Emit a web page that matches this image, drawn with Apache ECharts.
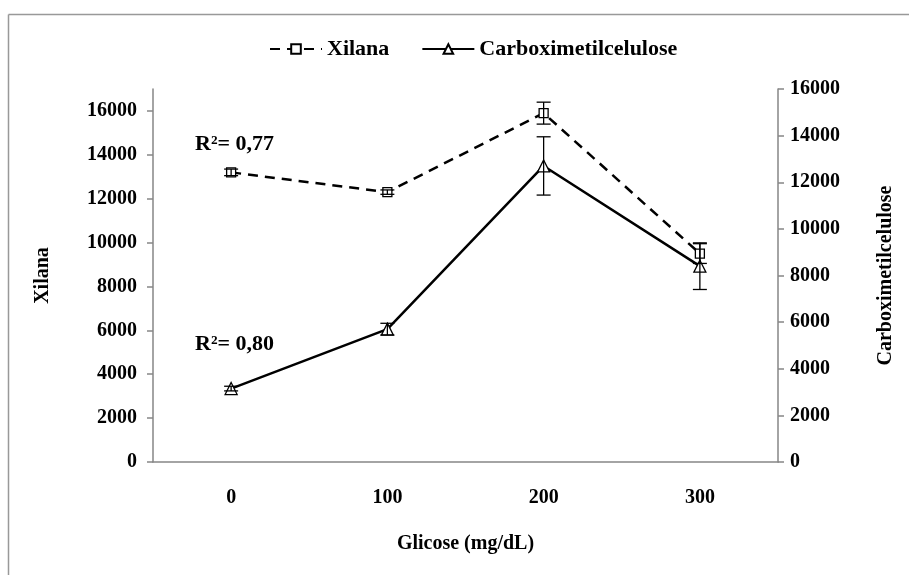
<!DOCTYPE html>
<html><head><meta charset="utf-8">
<script src="https://cdn.jsdelivr.net/npm/echarts@6/dist/echarts.min.js"></script>
<style>html,body{margin:0;padding:0;background:#fff}#c{width:909px;height:575px}</style>
</head><body><div id="c"></div>
<script>
const categories = ['0', '100', '200', '300'];
const xilana = [13200, 12300, 15900, 9500];
const xilanaErr = [150, 100, 500, 450];
const cmc = [3150, 5700, 12700, 8400];
const cmcErr = [100, 250, 1250, 1000];
const leftTicks = {min: 0, max: 17000, interval: 2000};
const rightTicks = {min: 0, max: 16000, interval: 2000};
const annotations = ['R²= 0,77', 'R²= 0,80'];

const FONT = '"Liberation Serif", "Times New Roman", serif';
const AX = '#868686';
const TS = 20;

function errSeries(vals, errs, axisIdx) {
  return {
    type: 'custom', yAxisIndex: axisIdx, z: 5, silent: true,
    data: vals.map((v, i) => [i, v - errs[i], v + errs[i]]),
    renderItem: function (params, api) {
      const lo = api.coord([api.value(0), api.value(1)]);
      const hi = api.coord([api.value(0), api.value(2)]);
      const w = 7;
      const st = {stroke: '#000', lineWidth: 1.3};
      return {type: 'group', children: [
        {type: 'line', shape: {x1: lo[0], y1: lo[1], x2: hi[0], y2: hi[1]}, style: st},
        {type: 'line', shape: {x1: lo[0]-w, y1: lo[1], x2: lo[0]+w, y2: lo[1]}, style: st},
        {type: 'line', shape: {x1: hi[0]-w, y1: hi[1], x2: hi[0]+w, y2: hi[1]}, style: st}
      ]};
    }
  };
}
const plain = v => String(v);

const chart = echarts.init(document.getElementById('c'), null, {renderer: 'canvas'});
chart.setOption({
  backgroundColor: '#fff',
  animation: false,
  textStyle: {fontFamily: FONT},
  legend: {
    top: 33, left: 264, itemWidth: 52, itemHeight: 12, itemGap: 32,
    data: ['Xilana', 'Carboximetilcelulose'],
    textStyle: {fontFamily: FONT, fontWeight: 'bold', fontSize: 22, color: '#000'}
  },
  grid: {left: 153, right: 131, top: 89, bottom: 113},
  xAxis: {
    type: 'category', data: categories, boundaryGap: true,
    name: 'Glicose (mg/dL)', nameLocation: 'middle', nameGap: 72,
    nameTextStyle: {fontFamily: FONT, fontWeight: 'bold', fontSize: TS, color: '#000'},
    axisLine: {lineStyle: {color: AX, width: 1.5}},
    axisTick: {length: 6, lineStyle: {color: AX, width: 1.5}},
    axisLabel: {margin: 26, fontFamily: FONT, fontWeight: 'bold', fontSize: TS, color: '#000'},
    splitLine: {show: false}
  },
  yAxis: [{
    type: 'value', position: 'left', min: leftTicks.min, max: leftTicks.max, interval: leftTicks.interval,
    name: 'Xilana', nameLocation: 'middle', nameRotate: 90, nameGap: 100,
    nameTextStyle: {fontFamily: FONT, fontWeight: 'bold', fontSize: TS, color: '#000'},
    axisLine: {show: true, lineStyle: {color: AX, width: 1.5}},
    axisTick: {show: true, length: 6, lineStyle: {color: AX, width: 1.5}},
    axisLabel: {margin: 16, showMaxLabel: false, formatter: plain, fontFamily: FONT, fontWeight: 'bold', fontSize: TS, color: '#000'},
    splitLine: {show: false}
  }, {
    type: 'value', position: 'right', min: rightTicks.min, max: rightTicks.max, interval: rightTicks.interval,
    name: 'Carboximetilcelulose', nameLocation: 'middle', nameRotate: 90, nameGap: 98,
    nameTextStyle: {fontFamily: FONT, fontWeight: 'bold', fontSize: TS, color: '#000'},
    axisLine: {show: true, lineStyle: {color: AX, width: 1.5}},
    axisTick: {show: true, length: 6, lineStyle: {color: AX, width: 1.5}},
    axisLabel: {margin: 12, formatter: plain, fontFamily: FONT, fontWeight: 'bold', fontSize: TS, color: '#000'},
    splitLine: {show: false}
  }],
  series: [{
    name: 'Xilana', type: 'line', yAxisIndex: 0, data: xilana, z: 3,
    symbol: 'rect', symbolSize: 9, showAllSymbol: true,
    itemStyle: {color: '#fff', borderColor: '#000', borderWidth: 1.3},
    lineStyle: {color: '#000', width: 2.5, type: [10, 7]}
  }, {
    name: 'Carboximetilcelulose', type: 'line', yAxisIndex: 1, data: cmc, z: 3,
    symbol: 'triangle', symbolSize: 12, showAllSymbol: true,
    itemStyle: {color: '#fff', borderColor: '#000', borderWidth: 1.3},
    lineStyle: {color: '#000', width: 2.5}
  },
  errSeries(xilana, xilanaErr, 0),
  errSeries(cmc, cmcErr, 1)
  ],
  graphic: [
    {type: 'line', shape: {x1: 8.5, y1: 14.5, x2: 909, y2: 14.5}, style: {stroke: '#999', lineWidth: 1.5}},
    {type: 'line', shape: {x1: 8.5, y1: 14.5, x2: 8.5, y2: 575}, style: {stroke: '#999', lineWidth: 1.5}},
    {type: 'text', left: 195, top: 133, style: {text: annotations[0], fontFamily: FONT, fontWeight: 'bold', fontSize: 22, fill: '#000'}},
    {type: 'text', left: 195, top: 333, style: {text: annotations[1], fontFamily: FONT, fontWeight: 'bold', fontSize: 22, fill: '#000'}}
  ]
});
</script></body></html>
